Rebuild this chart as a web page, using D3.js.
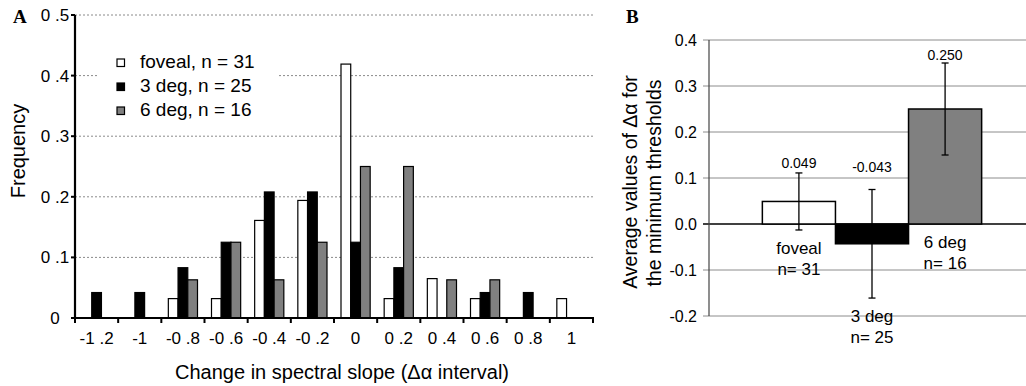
<!DOCTYPE html>
<html>
<head>
<meta charset="utf-8">
<script src="https://cdn.jsdelivr.net/npm/d3@7"></script>
<style>
  body { margin: 0; background: #fff; }
  svg { display: block; font-family: "Liberation Sans", Arial, sans-serif; }
</style>
</head>
<body>
<div id="chart"></div>
<script>
// panel A: histogram of the change in spectral slope
var bins = ['-1 .2', '-1', '-0 .8', '-0 .6', '-0 .4', '-0 .2', '0', '0 .2', '0 .4', '0 .6', '0 .8', '1']
var foveal = [0, 0, 0.032, 0.032, 0.161, 0.194, 0.419, 0.032, 0.065, 0.032, 0, 0.032]
var deg3 = [0.042, 0.042, 0.083, 0.125, 0.208, 0.208, 0.125, 0.083, 0, 0.042, 0.042, 0]
var deg6 = [0, 0, 0.063, 0.125, 0.063, 0.125, 0.25, 0.25, 0.063, 0.063, 0, 0]
var seriesKeys = ['foveal', 'deg3', 'deg6']
var legendLabels = ['foveal, n = 31', '3 deg, n = 25', '6 deg, n = 16']
var yTicksA = [0, 0.1, 0.2, 0.3, 0.4, 0.5]
var yTickLabelsA = ['0', '0 .1', '0 .2', '0 .3', '0 .4', '0 .5']

// panel B: averages with error bars
var groupsB = ['foveal', '3 deg', '6 deg']
var groupNB = ['n= 31', 'n= 25', 'n= 16']
var meansB = [0.049, -0.043, 0.250]
var errB = [0.062, 0.118, 0.100]
var meanLabelsB = ['0.049', '-0.043', '0.250']

var colors = { foveal: '#ffffff', deg3: '#000000', deg6: '#808080' }
var fillsB = ['#ffffff', '#000000', '#808080']

var W = 1026, H = 386

var svg = d3.select('#chart').append('svg')
    .attr('width', W)
    .attr('height', H)

// ---------- panel A ----------
var xA = d3.scaleBand()
    .domain(bins)
    .range([75, 593])
    .padding(0)

var xSub = d3.scaleBand()
    .domain(seriesKeys)
    .range([0, xA.bandwidth()])
    .paddingInner(0)
    .paddingOuter(0.72)

var yA = d3.scaleLinear()
    .domain([0, 0.5])
    .range([318, 15])

var gA = svg.append('g')

// dashed gridlines
gA.append('g')
    .selectAll('line')
    .data(yTicksA.slice(1))
    .enter().append('line')
    .attr('x1', 75)
    .attr('x2', 593)
    .attr('y1', function (d) { return yA(d) })
    .attr('y2', function (d) { return yA(d) })
    .attr('stroke', '#8a8a8a')
    .attr('stroke-width', 1)
    .attr('stroke-dasharray', '2,2')

// legend background hides the gridline behind it
gA.append('rect')
    .attr('x', 97).attr('y', 46)
    .attr('width', 180).attr('height', 78)
    .attr('fill', '#fff')

var tableA = bins.map(function (b, i) {
    return { bin: b, foveal: foveal[i], deg3: deg3[i], deg6: deg6[i] }
})

var binGroups = gA.append('g')
    .selectAll('g')
    .data(tableA)
    .enter().append('g')
    .attr('transform', function (d) { return 'translate(' + xA(d.bin) + ',0)' })

binGroups.selectAll('rect')
    .data(function (d) {
        return seriesKeys.map(function (k) { return { key: k, value: d[k] } })
            .filter(function (e) { return e.value > 0 })
    })
    .enter().append('rect')
    .attr('x', function (d) { return xSub(d.key) })
    .attr('y', function (d) { return yA(d.value) })
    .attr('width', xSub.bandwidth())
    .attr('height', function (d) { return yA(0) - yA(d.value) })
    .attr('fill', function (d) { return colors[d.key] })
    .attr('stroke', '#000')
    .attr('stroke-width', 1.2)

// x axis labels at bin centres, ticks at bin edges
var xAxisA = gA.append('g')
    .attr('transform', 'translate(0,' + yA(0) + ')')
    .call(d3.axisBottom(xA).tickSize(0).tickPadding(14))
xAxisA.select('.domain').remove()
xAxisA.selectAll('text')
    .attr('font-size', 17)
    .attr('font-family', '"Liberation Sans", Arial, sans-serif')
    .attr('fill', '#000')

var edges = bins.map(function (b) { return xA(b) }).concat([xA(bins[bins.length - 1]) + xA.step()])
gA.append('g')
    .selectAll('line')
    .data(edges)
    .enter().append('line')
    .attr('x1', function (d) { return d }).attr('x2', function (d) { return d })
    .attr('y1', yA(0)).attr('y2', yA(0) + 5)
    .attr('stroke', '#000').attr('stroke-width', 2)

gA.append('line')
    .attr('x1', 74).attr('x2', 594)
    .attr('y1', yA(0)).attr('y2', yA(0))
    .attr('stroke', '#000').attr('stroke-width', 2.2)

// y axis
gA.append('line')
    .attr('x1', 75).attr('x2', 75)
    .attr('y1', yA(0.5)).attr('y2', yA(0) + 1)
    .attr('stroke', '#000').attr('stroke-width', 2.2)

gA.append('g')
    .selectAll('line')
    .data(yTicksA)
    .enter().append('line')
    .attr('x1', 71).attr('x2', 75)
    .attr('y1', function (d) { return yA(d) })
    .attr('y2', function (d) { return yA(d) })
    .attr('stroke', '#000').attr('stroke-width', 2)

gA.append('g')
    .selectAll('text')
    .data(yTicksA)
    .enter().append('text')
    .attr('x', 55)
    .attr('y', function (d) { return yA(d) })
    .attr('dy', '0.35em')
    .attr('text-anchor', 'middle')
    .attr('font-size', 17)
    .text(function (d, i) { return yTickLabelsA[i] })

// legend
var legend = gA.append('g')
    .selectAll('g')
    .data(seriesKeys)
    .enter().append('g')
    .attr('transform', function (d, i) { return 'translate(117,' + (68 + i * 24) + ')' })

legend.append('rect')
    .attr('x', 0).attr('y', -9)
    .attr('width', 7.5).attr('height', 7.5)
    .attr('fill', function (d) { return colors[d] })
    .attr('stroke', '#000').attr('stroke-width', 1.2)

legend.append('text')
    .attr('x', 23).attr('y', 0)
    .attr('font-size', 19)
    .text(function (d, i) { return legendLabels[i] })

// titles
svg.append('text')
    .attr('transform', 'translate(25,151) rotate(-90)')
    .attr('text-anchor', 'middle')
    .attr('font-size', 20)
    .text('Frequency')

svg.append('text')
    .attr('x', 342).attr('y', 379)
    .attr('text-anchor', 'middle')
    .attr('font-size', 20)
    .text('Change in spectral slope (\u0394\u03b1 interval)')

svg.append('text')
    .attr('x', 13).attr('y', 23)
    .attr('font-family', '"Liberation Serif", "Times New Roman", serif')
    .attr('font-weight', 'bold')
    .attr('font-size', 19)
    .text('A')

// ---------- panel B ----------
var xB = d3.scaleBand()
    .domain(groupsB)
    .range([709, 1035])
    .paddingInner(0)
    .paddingOuter(0.73)

var yB = d3.scaleLinear()
    .domain([-0.2, 0.4])
    .range([316, 40])

var yTicksB = yB.ticks(6)

var gB = svg.append('g')

gB.append('g')
    .selectAll('line')
    .data(yTicksB)
    .enter().append('line')
    .attr('x1', 703)
    .attr('x2', 1035)
    .attr('y1', function (d) { return yB(d) })
    .attr('y2', function (d) { return yB(d) })
    .attr('stroke', function (d) { return Math.abs(d) < 1e-9 ? '#000' : '#8c8c8c' })
    .attr('stroke-width', function (d) { return Math.abs(d) < 1e-9 ? 1.3 : 1 })

gB.append('line')
    .attr('x1', 709).attr('x2', 709)
    .attr('y1', yB(0.4)).attr('y2', yB(-0.2))
    .attr('stroke', '#444').attr('stroke-width', 1.2)

gB.append('g')
    .selectAll('text')
    .data(yTicksB)
    .enter().append('text')
    .attr('x', 697)
    .attr('y', function (d) { return yB(d) })
    .attr('dy', '0.35em')
    .attr('text-anchor', 'end')
    .attr('font-size', 16)
    .text(function (d) { return d.toFixed(1) })

var tableB = groupsB.map(function (g, i) {
    return { group: g, n: groupNB[i], mean: meansB[i], err: errB[i], label: meanLabelsB[i], fill: fillsB[i] }
})

gB.append('g')
    .selectAll('rect')
    .data(tableB)
    .enter().append('rect')
    .attr('x', function (d) { return xB(d.group) })
    .attr('y', function (d) { return yB(Math.max(0, d.mean)) })
    .attr('width', xB.bandwidth())
    .attr('height', function (d) { return Math.abs(yB(d.mean) - yB(0)) })
    .attr('fill', function (d) { return d.fill })
    .attr('stroke', '#000')
    .attr('stroke-width', 1.5)

var errG = gB.append('g')
    .selectAll('g')
    .data(tableB)
    .enter().append('g')
    .attr('transform', function (d) { return 'translate(' + (xB(d.group) + xB.bandwidth() / 2) + ',0)' })

errG.append('line')
    .attr('x1', 0).attr('x2', 0)
    .attr('y1', function (d) { return yB(d.mean + d.err) })
    .attr('y2', function (d) { return yB(d.mean - d.err) })
    .attr('stroke', '#000').attr('stroke-width', 1.3)

errG.selectAll('line.cap')
    .data(function (d) { return [d.mean + d.err, d.mean - d.err] })
    .enter().append('line')
    .attr('class', 'cap')
    .attr('x1', -3.5).attr('x2', 3.5)
    .attr('y1', function (v) { return yB(v) })
    .attr('y2', function (v) { return yB(v) })
    .attr('stroke', '#000').attr('stroke-width', 1.3)

// value labels sit above the upper error bar
var labelLift = [5, 18, 3]
errG.append('text')
    .attr('x', 0)
    .attr('y', function (d, i) { return yB(d.mean + d.err) - labelLift[i] })
    .attr('text-anchor', 'middle')
    .attr('font-size', 14)
    .text(function (d) { return d.label })

// category labels below the lower end of each bar / error bar
var catText = errG.append('text')
    .attr('text-anchor', 'middle')
    .attr('font-size', 17)
    .attr('y', function (d) { return yB(Math.min(0, d.mean - d.err)) + 24 })

catText.append('tspan')
    .attr('x', 0)
    .text(function (d) { return d.group })
catText.append('tspan')
    .attr('x', 0)
    .attr('dy', 21)
    .text(function (d) { return d.n })

svg.append('text')
    .attr('transform', 'translate(637,182) rotate(-90)')
    .attr('text-anchor', 'middle')
    .attr('font-size', 19.5)
    .text('Average values of \u0394\u03b1 for')

svg.append('text')
    .attr('transform', 'translate(661,183) rotate(-90)')
    .attr('text-anchor', 'middle')
    .attr('font-size', 19.5)
    .text('the minimum thresholds')

svg.append('text')
    .attr('x', 626).attr('y', 23)
    .attr('font-family', '"Liberation Serif", "Times New Roman", serif')
    .attr('font-weight', 'bold')
    .attr('font-size', 19)
    .text('B')
</script>
</body>
</html>
